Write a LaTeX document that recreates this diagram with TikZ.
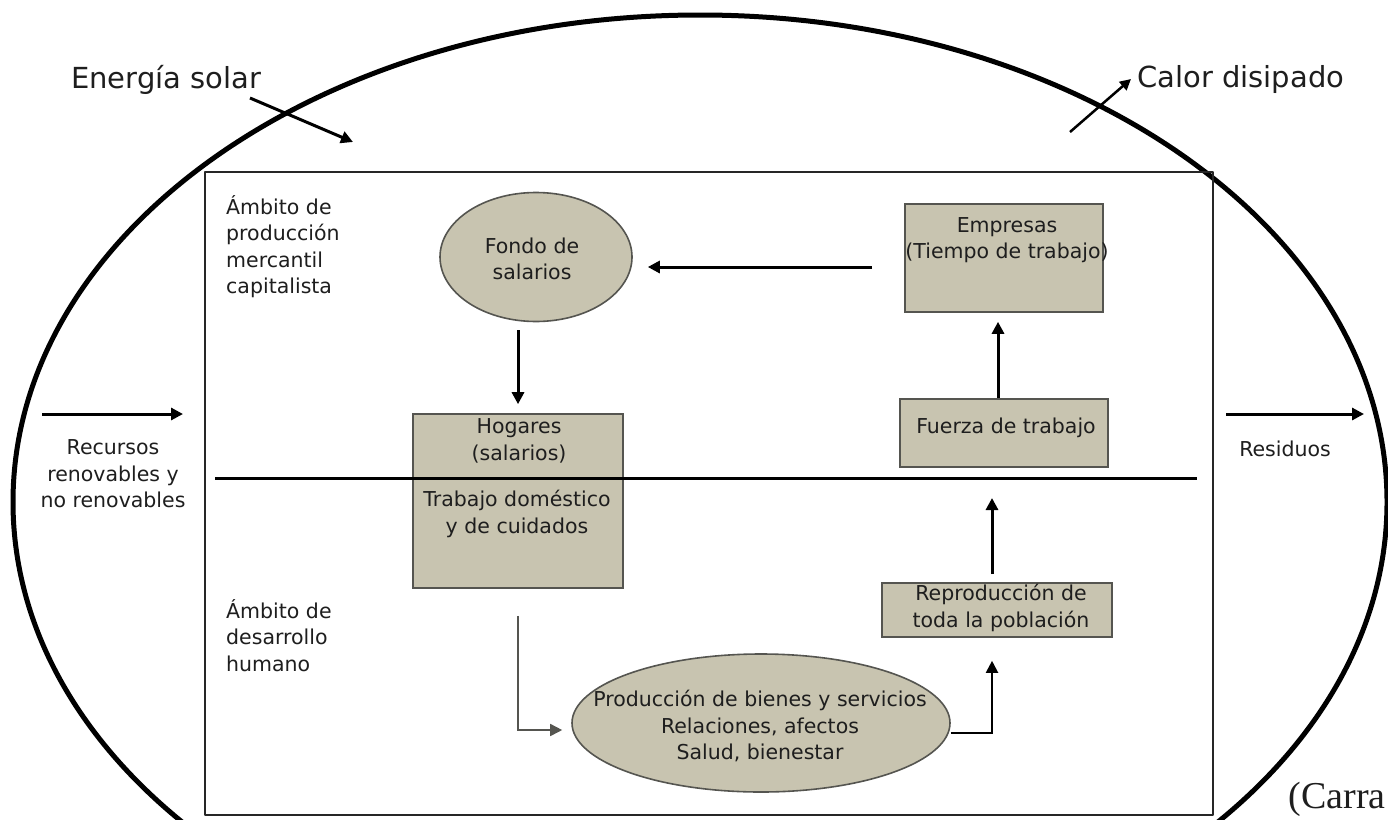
\documentclass[tikz,border=0pt]{standalone}
\usepackage{fontspec}
\setmainfont{DejaVu Sans}
\newfontfamily\citefont{Liberation Serif}
\usetikzlibrary{arrows.meta,calc,shapes.geometric}
\definecolor{boxfill}{RGB}{200,196,176}
\definecolor{boxline}{RGB}{85,85,80}
\definecolor{ink}{RGB}{30,30,30}
\tikzset{
  txt/.style={inner sep=0pt, text=ink, align=center, font=\fontsize{20.5}{26.5}\selectfont},
  bigtxt/.style={inner sep=0pt, text=ink, font=\fontsize{29}{34}\selectfont},
  shadebox/.style={draw=boxline, line width=1.6pt, fill=boxfill, rectangle, inner sep=0pt},
  shadeell/.style={draw=boxline, line width=1.6pt, fill=boxfill, ellipse, inner sep=0pt},
  arr/.style={draw=black, line width=3pt, -{Triangle[length=12pt,width=12pt]}},
  thinarr/.style={draw=boxline, line width=1.6pt, -{Triangle[length=12pt,width=12pt]}},
}
\begin{document}
\begin{tikzpicture}[x=1pt,y=-1pt]
\useasboundingbox (0,0) rectangle (1388,819);
\fill[white] (0,0) rectangle (1388,819);
% big ellipse
\draw[line width=5pt] (700,502) ellipse [x radius=687pt, y radius=487pt];
% inner box
\draw[line width=2pt, draw=black!85, line join=round] (205,172) -- (1213,172) -- (1213,815) -- (205,815) -- cycle;
% divider
\coordinate (divL) at (215,478);
\coordinate (divR) at (1197,478);

% outer labels
\node[bigtxt, anchor=base west] (sol) at (71,88) {Energía solar};
\node[bigtxt, anchor=base west] (calor) at (1137,87) {Calor disipado};
\coordinate (solA) at (250,98);
\coordinate (solB) at (353,142);
\draw[arr] (solA) -- (solB);
\coordinate (calA) at (1070,132);
\coordinate (calB) at (1131,79);
\draw[line width=2.5pt, -{Triangle[length=11pt,width=11pt]}] (calA) -- (calB);

\coordinate (recA) at (42,414);
\coordinate (recB) at (183,414);
\draw[arr] (recA) -- (recB);
\node[txt] (rec) at (113,474) {Recursos\\renovables y\\no renovables};
\coordinate (resA) at (1226,414);
\coordinate (resB) at (1364,414);
\draw[arr] (resA) -- (resB);
\node[txt] (res) at (1285,449) {Residuos};

% ambit labels
\node[txt, align=left, anchor=north west] (amb1) at (226,195) {Ámbito de\\producción\\mercantil\\capitalista};
\node[txt, align=left, anchor=north west] (amb2) at (226,599) {Ámbito de\\desarrollo\\humano};

% shapes
\node[shadeell, minimum width=192pt, minimum height=129pt] (fondo) at (536,257) {};
\node[txt] (fondoT) at (532,259) {Fondo de\\salarios};

\node[shadebox, minimum width=198pt, minimum height=108pt] (emp) at (1004,258) {};
\node[txt] (empT) at (1007,240) {Empresas\\(Tiempo de trabajo)};

\node[shadebox, minimum width=208pt, minimum height=68pt] (fza) at (1004,433) {};
\node[txt] (fzaT) at (1006,428) {Fuerza de trabajo};

\node[shadebox, minimum width=210pt, minimum height=174pt] (hog) at (518,501) {};
\node[txt] (hogT1) at (519,441) {Hogares\\(salarios)};

\draw[line width=3pt] (divL) -- (divR);
\node[txt] (hogT2) at (517,514) {Trabajo doméstico\\y de cuidados};

\node[shadebox, minimum width=230pt, minimum height=54pt] (rep) at (997,610) {};
\node[txt] (repT) at (1001,608) {Reproducción de\\toda la población};

\node[shadeell, minimum width=378pt, minimum height=138pt] (prod) at (761,723) {};
\node[txt] (prodT) at (760,726) {Producción de bienes y servicios\\Relaciones, afectos\\Salud, bienestar};

% connectors
\draw[arr, shorten <=32pt, shorten >=15pt] (emp.west |- 0,267) -- (fondo.east |- 0,267);
\draw[arr, shorten <=8pt, shorten >=9pt] (hog.north |- fondo.south) -- (hog.north);
\draw[arr, shorten >=9pt] (fza.north -| 998,0) -- (emp.south -| 998,0);
\draw[arr, shorten <=8pt, shorten >=20pt] (rep.north -| 992,0) -- (divR -| 992,0);
\draw[thinarr, shorten >=9pt] ([yshift=-27pt]hog.south) |- (prod.west |- 0,730);
\draw[line width=2pt, -{Triangle[length=12pt,width=12pt]}, shorten >=23pt] (prod.east |- 0,733) -| (rep.south -| 992,0);

% citation, cut at the picture's edge in the reference
\node[inner sep=0pt, anchor=base east, text=ink, font=\citefont\fontsize{38}{42}\selectfont] (cita) at (1386,808) {(Carra};
\end{tikzpicture}
\end{document}
